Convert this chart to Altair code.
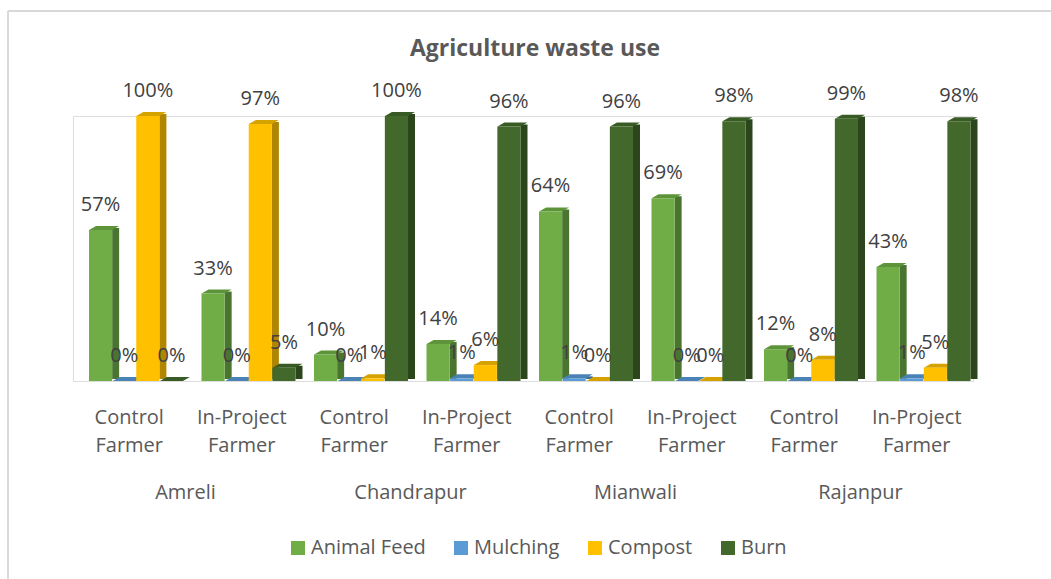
import altair as alt
import pandas as pd

districts = ["Amreli", "Chandrapur", "Mianwali", "Rajanpur"]
farmers = ["Control Farmer", "In-Project Farmer"]
series = ["Animal Feed", "Mulching", "Compost", "Burn"]
animal_feed = [57, 33, 10, 14, 64, 69, 12, 43]
mulching = [0, 0, 0, 1, 1, 0, 0, 1]
compost = [100, 97, 1, 6, 0, 0, 8, 5]
burn = [0, 5, 100, 96, 96, 98, 99, 98]

front_colors = ["#70AD47", "#5B9BD5", "#FFC000", "#43682B"]
side_colors = ["#4A7530", "#3E6E9A", "#B08500", "#2C461C"]
cap_colors = ["#5E9439", "#4A82B6", "#D6A200", "#385A24"]

values_by_series = [animal_feed, mulching, compost, burn]

keys = []
rows = []
i = 0
for d in districts:
    for f in farmers:
        key = d + "|" + f.replace(" ", "|")
        keys.append(key)
        for s, vals in zip(series, values_by_series):
            rows.append({"key": key, "district": d, "farmer": f, "series": s,
                         "value": vals[i], "label": f"{vals[i]}%"})
        i += 1
df = pd.DataFrame(rows)
ddf = pd.DataFrame({"district": districts})

FONT = "Open Sans"
W, H = 900, 265
START, END, PI = 16, 110, 0.02
STEP = (END - START) / (4 - PI)
BW = STEP * (1 - PI)
HALF = BW / 2

x_enc = alt.X(
    "key:N", sort=keys,
    scale=alt.Scale(paddingInner=0, paddingOuter=0),
    axis=alt.Axis(title=None, labelExpr="slice(split(datum.value, '|'), 1)",
                  labelFontSize=20, labelFont=FONT, labelColor="#595959",
                  labelPadding=26, labelLineHeight=28, domain=False, ticks=False,
                  grid=False, labelAngle=0),
)
y_enc = alt.Y("value:Q", scale=alt.Scale(domain=[0, 100]), axis=None)


def off_band(shift):
    return alt.XOffset("series:N", sort=series,
                       scale=alt.Scale(domain=series, range=[START + shift, END + shift],
                                       paddingInner=PI, paddingOuter=0))


def off_point(shift):
    a = START + HALF + shift
    return alt.XOffset("series:N", sort=series,
                       scale=alt.Scale(type="point", domain=series,
                                       range=[a, a + 3 * STEP], padding=0))


base = alt.Chart(df)

sides = base.mark_bar(width=7, yOffset=-2, y2Offset=-1).encode(
    x=x_enc, y=y_enc, xOffset=off_band(HALF + 3.5),
    color=alt.Color("series:N", sort=series,
                    scale=alt.Scale(domain=series, range=side_colors), legend=None),
)

cap_path = "M -1 0.1333 L 0.5333 0.1333 L 1 -0.1333 L -0.5333 -0.1333 Z"
caps = base.mark_point(shape=cap_path, size=900, filled=True, opacity=1,
                       strokeWidth=0, yOffset=-2).encode(
    x=x_enc, y=y_enc, xOffset=off_point(3.5),
    color=alt.Color("series:N", sort=series,
                    scale=alt.Scale(domain=series, range=cap_colors), legend=None),
)

fronts = base.mark_bar().encode(
    x=x_enc, y=y_enc, xOffset=off_band(0),
    color=alt.Color("series:N", sort=series,
                    scale=alt.Scale(domain=series, range=front_colors),
                    legend=alt.Legend(orient="none", legendX=215, legendY=422,
                                      direction="horizontal", title=None,
                                      symbolType="square", symbolSize=196,
                                      symbolStrokeWidth=0, labelFontSize=20,
                                      labelFont=FONT, labelColor="#595959",
                                      columnPadding=25, labelOffset=3, padding=0)),
)

labels = base.mark_text(dy=-25, fontSize=20, font=FONT, color="#404040",
                        baseline="middle").encode(
    x=x_enc, y=y_enc, xOffset=off_point(0), text="label:N",
)

inner = alt.layer(sides, caps, fronts, labels).resolve_scale(
    xOffset="independent", color="independent")

district_text = alt.Chart(ddf).mark_text(fontSize=20, font=FONT, color="#595959",
                                         baseline="middle").encode(
    x=alt.X("district:N", sort=districts,
            scale=alt.Scale(paddingInner=0, paddingOuter=0), axis=None),
    y=alt.value(377),
    text="district:N",
)

one = pd.DataFrame({"a": [0]})
frame_left = alt.Chart(one).mark_rule(color="#D9D9D9", strokeWidth=2).encode(
    x=alt.value(-65), y=alt.value(-105), y2=alt.value(470))
frame_top = alt.Chart(one).mark_rule(color="#D9D9D9", strokeWidth=2).encode(
    x=alt.value(-65), x2=alt.value(980), y=alt.value(-105))

chart = alt.layer(frame_left, frame_top, inner, district_text).resolve_scale(
    x="independent").properties(
    width=W, height=H,
    title=alt.TitleParams("Agriculture waste use", fontSize=23, font=FONT,
                          fontWeight="bold", color="#595959", anchor="middle",
                          offset=-51, dx=12),
    autosize=alt.AutoSizeParams(type="none"),
    padding={"left": 73, "top": 116, "right": 78, "bottom": 198},
).configure_view(stroke=None).configure(background="white")

chart.save("out.html", embed_options={"renderer": "svg", "actions": False})
